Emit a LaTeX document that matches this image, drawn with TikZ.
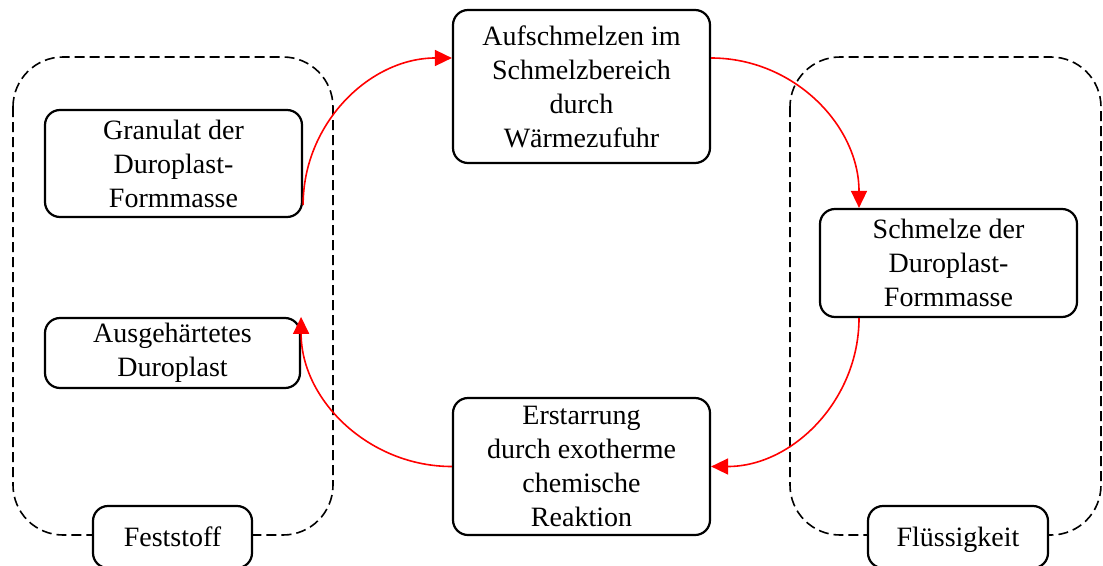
\documentclass[tikz,border=0pt]{standalone}
\usepackage{fontspec}
\setmainfont{Liberation Serif}
\usetikzlibrary{arrows.meta}

\begin{document}
\begin{tikzpicture}[x=1pt,y=1pt]
\tikzstyle{every node}+=[inner sep=0pt]
\tikzstyle{stage}=[draw, line width=2.2pt, rounded corners=15pt, fill=white, align=center, font=\fontsize{28}{34}\selectfont]
\tikzstyle{state}=[stage, text depth=0pt]
\tikzstyle{phase}=[draw, line width=1.6pt, dash pattern=on 10pt off 5pt, rounded corners=50pt]
\tikzstyle{flow}=[draw=red, line width=1.6pt, -{Triangle[length=17pt,width=16pt]}, red]
\useasboundingbox (0,0) rectangle (1103,-565);
\draw [phase] (13,-57) rectangle (333,-535);
\draw [phase] (790,-57) rectangle (1101,-535);
\node [stage, minimum width=257, minimum height=107] (gran) at (173.5,-163.5) {Granulat der\\Duroplast-\\Formmasse};
\node [stage, minimum width=255, minimum height=70] (ausg) at (172.5,-353) {Ausgehärtetes\\Duroplast};
\node [state, minimum width=159, minimum height=62] (fest) at (172.5,-537) {Feststoff};
\node [stage, minimum width=257, minimum height=153] (aufs) at (581.5,-86.5) {Aufschmelzen im\\Schmelzbereich\\durch\\Wärmezufuhr};
\node [stage, minimum width=257, minimum height=108] (schm) at (948.5,-263) {Schmelze der\\Duroplast-\\Formmasse};
\node [stage, minimum width=257, minimum height=137] (erst) at (581.5,-466.5) {Erstarrung\\durch exotherme\\chemische\\Reaktion};
\node [state, minimum width=180, minimum height=62] (flue) at (958,-537) {Flüssigkeit};
\draw [flow] ([yshift=13]gran.south east) to[out=90, in=180] ([yshift=28.5]aufs.west);
\draw [flow] ([yshift=28.5]aufs.east) to[out=0, in=90] ([xshift=-89.5]schm.north);
\draw [flow] ([xshift=-89.5]schm.south) to[out=-90, in=0] (erst.east);
\draw [flow] (erst.west) to[out=180, in=-90] (ausg.north east);
\end{tikzpicture}
\end{document}
